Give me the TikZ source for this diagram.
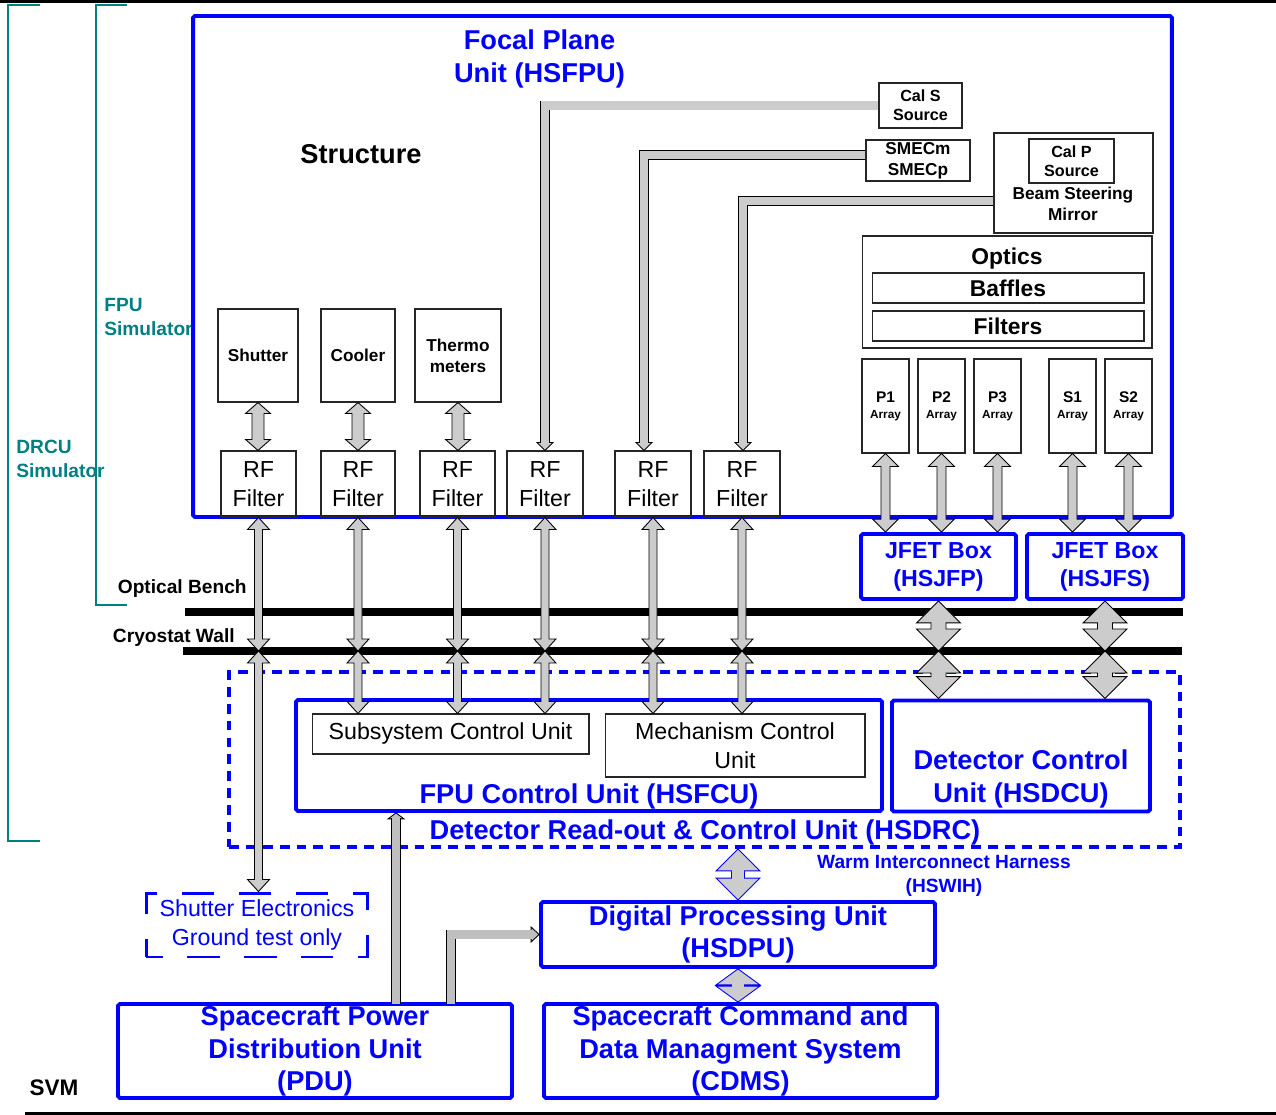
\documentclass[tikz,border=0pt]{standalone}
\usepackage{fontspec}
\setmainfont{Liberation Sans}
\usetikzlibrary{calc}

\definecolor{hblue}{RGB}{0,0,255}
\definecolor{hteal}{RGB}{0,128,128}

\newcommand{\hsbig}{\fontsize{15.5}{18.7}\selectfont\bfseries}
\newcommand{\hsjfet}{\fontsize{13.2}{15.9}\selectfont\bfseries}
\newcommand{\hsopt}{\fontsize{13}{15}\selectfont\bfseries}
\newcommand{\hsmid}{\fontsize{13.2}{16.2}\selectfont}
\newcommand{\hssmall}{\fontsize{9.8}{11.9}\selectfont\bfseries}
\newcommand{\hscal}{\fontsize{9.2}{10.9}\selectfont\bfseries}
\newcommand{\hslab}{\fontsize{10.9}{13.6}\selectfont\bfseries}
\newcommand{\hssvm}{\fontsize{12.8}{15}\selectfont\bfseries}

% fat double arrow: [style]{head half width}{shaft half width}{head length}{top}{bottom}
\newcommand{\fatarrow}[6][arrowbody]{%
  \draw[#1] (#5) -- ++(#2,#4) -- ++({#3-#2},0) -- ($(#6)+(#3,-#4)$) -- ++({#2-#3},0)
    -- (#6) -- ++(-#2,-#4) -- ++({#2-#3},0) -- ($(#5)+(-#3,#4)$) -- ++({#3-#2},0) -- cycle;}

\begin{document}
\begin{tikzpicture}[x=0.02cm,y=-0.02cm,
sysbox/.style={draw=black!85,line width=0.6pt,inner sep=0pt,align=center},
bluebox/.style={draw=hblue,line width=2.2pt,rounded corners=1pt,inner sep=0pt,align=center,text=hblue,font=\hsbig},
dashbox/.style={draw=hblue,line width=2.2pt,dash pattern=on 5.6pt off 4pt,inner sep=0pt},
groundbox/.style={draw=hblue,line width=1.7pt,dash pattern=on 18.5pt off 13.9pt,dash phase=9pt,inner sep=0pt,align=center,text=hblue,font=\hsmid},
bluetext/.style={text=hblue,font=\hsbig,align=center},
simtext/.style={text=hteal,font=\hslab,align=left,anchor=west,inner sep=0pt},
bracket/.style={draw=hteal,line width=1.7pt},
wall/.style={draw=black,line width=4.5pt},
arrowbody/.style={draw=black,line width=0.5pt,fill=gray!40},
bluearrow/.style={draw=hblue,line width=0.5pt,fill=gray!40},
fatline/.style={draw=black,line width=0.5pt,double=gray!40,double distance=4.6pt},
pduline/.style={draw=black,line width=0.5pt,double=gray!50,double distance=4.6pt},
pduhead/.style={draw=black,line width=0.5pt,fill=gray!50}]

\useasboundingbox (0,0) rectangle (1276,1115);

% frame rules and simulator brackets
\draw[line width=2pt] (0,1.7) -- (1276,1.7);
\draw[line width=2.2pt] (25,1113.5) -- (1276,1113.5);
\draw[bracket] (40,5) -| (8,841) -- (40,841);
\draw[bracket] (127,5) -| (96,605) -- (127,605);
\draw (104,317) node[simtext] (fpusim) {FPU\\Simulator};
\draw (16,458.5) node[simtext] (drcusim) {DRCU\\Simulator};

% focal plane unit
\draw (682.5,266.5) node[bluebox,minimum width=19.58cm,minimum height=10.02cm] (fpu) {};
\draw (539.5,59) node[bluetext] (fputext) {Focal Plane\\Unit (HSFPU)};
\draw (361,154) node[font=\hsbig] (struct) {Structure};

\draw (258,355.5) node[sysbox,font=\hssmall,minimum width=1.6cm,minimum height=1.86cm] (shutter) {Shutter};
\draw (358,355.5) node[sysbox,font=\hssmall,minimum width=1.48cm,minimum height=1.86cm] (cooler) {Cooler};
\draw (458,355.5) node[sysbox,font=\hssmall,minimum width=1.72cm,minimum height=1.86cm] (thermo) {Thermo\\meters};

\foreach \n/\x/\w in {1/258.5/1.5,2/358/1.48,3/457.5/1.5,4/545/1.52,5/653/1.52,6/742/1.52}
  \draw (\x,484) node[sysbox,font=\hsmid,minimum width=\w cm,minimum height=1.32cm] (rf\n) {RF\\Filter};

\draw (920.5,105.5) node[sysbox,font=\hscal,minimum width=1.66cm,minimum height=0.9cm] (cals) {Cal S\\Source};
\draw (918,160.5) node[sysbox,font=\hssmall,minimum width=2.08cm,minimum height=0.82cm] (smec) {SMECm\\SMECp};
\draw (1073.5,183) node[sysbox,minimum width=3.18cm,minimum height=2cm] (bsm) {};
\draw (1071.5,161) node[sysbox,font=\hscal,minimum width=1.7cm,minimum height=0.88cm] (calp) {Cal P\\Source};
\draw (1073,204) node[font=\hssmall,align=center] (bsmtext) {Beam Steering\\Mirror};

\draw (1007,292) node[sysbox,minimum width=5.8cm,minimum height=2.24cm] (optics) {};
\draw (1007,259) node[font=\hsopt] (opticstext) {Optics};
\draw (1008,288) node[sysbox,font=\hsopt,minimum width=5.44cm,minimum height=0.6cm] (baffles) {Baffles};
\draw (1008,326) node[sysbox,font=\hsopt,minimum width=5.44cm,minimum height=0.6cm] (filters) {Filters};

\foreach \n/\x in {P1/885.5,P2/941.5,P3/997.5,S1/1072.5,S2/1128.5}
  \draw (\x,406) node[sysbox,font=\fontsize{6.7}{9}\selectfont\bfseries,minimum width=0.94cm,minimum height=1.88cm] (\n)
    {{\fontsize{8.8}{9}\selectfont \n}\\Array};

\draw (938.5,566.5) node[bluebox,font=\hsjfet,minimum width=3.1cm,minimum height=1.3cm] (jfp) {JFET Box\\(HSJFP)};
\draw (1105,566.5) node[bluebox,font=\hsjfet,minimum width=3.12cm,minimum height=1.3cm] (jfs) {JFET Box\\(HSJFS)};

% optical bench and cryostat wall
\coordinate (obL) at (185,612);
\coordinate (obR) at (1183,612);
\coordinate (cwL) at (183,651);
\coordinate (cwR) at (1182,651);
\draw[wall] (obL) -- (obR);
\draw[wall] (cwL) -- (cwR);
\draw (247,589) node[font=\hslab,anchor=east,inner sep=0pt] (obtext) {Optical Bench};
\draw (235,638) node[font=\hslab,anchor=east,inner sep=0pt] (cwtext) {Cryostat Wall};

% read-out and control unit
\draw (704.5,759.5) node[dashbox,minimum width=19.02cm,minimum height=3.5cm] (drc) {};
\draw (589,755.5) node[bluebox,minimum width=11.72cm,minimum height=2.22cm] (fcu) {};
\draw (450.5,734) node[sysbox,font=\hsmid,minimum width=5.54cm,minimum height=0.8cm] (scu) {Subsystem Control Unit};
\draw (735,745.5) node[sysbox,font=\hsmid,minimum width=5.2cm,minimum height=1.26cm] (mcu) {Mechanism Control\\Unit};
\draw (589,796) node[bluetext] (fcutext) {FPU Control Unit (HSFCU)};
\draw (1021,756) node[bluebox,minimum width=5.16cm,minimum height=2.22cm] (dcu) {};
\draw (1021,779) node[bluetext] (dcutext) {Detector Control\\Unit (HSDCU)};
\draw (705,832) node[bluetext] (drctext) {Detector Read-out \& Control Unit (HSDRC)};
\draw (944,876) node[text=hblue,font=\hslab,align=center] (wih) {Warm Interconnect Harness\\(HSWIH)};

% service module
\draw (257,925) node[groundbox,minimum width=4.44cm,minimum height=1.28cm] (shel) {Shutter Electronics\\Ground test only};
\draw (738,934.5) node[bluebox,minimum width=7.88cm,minimum height=1.3cm] (dpu) {Digital Processing Unit\\(HSDPU)};
\draw (315,1051) node[bluebox,minimum width=7.88cm,minimum height=1.88cm] (pdu) {Spacecraft Power\\Distribution Unit\\(PDU)};
\draw (740.5,1051) node[bluebox,minimum width=7.86cm,minimum height=1.88cm] (cdms) {Spacecraft Command and\\Data Managment System\\(CDMS)};
\draw (54,1088) node[font=\hssvm] (svm) {SVM};

% harness arrows
\fatarrow{12.5}{6}{11}{shutter.south}{shutter.south |- rf1.north}
\fatarrow{12.5}{6}{11}{cooler.south}{cooler.south |- rf2.north}
\fatarrow{12.5}{6}{11}{thermo.south}{thermo.south |- rf3.north}

\draw[arrowbody] (rf4.north) -- ++(-8,-8) -- ++(16,0) -- cycle;
\draw[fatline] (cals.west) -| ($(rf4.north)+(0,-7)$);
\draw[arrowbody] ($(rf5.north)+(-9,0)$) -- ++(-8,-8) -- ++(16,0) -- cycle;
\draw[fatline] ($(smec.west)+(0,-5.5)$) -| ($(rf5.north)+(-9,-7)$);
\draw[arrowbody] ($(rf6.north)+(1,0)$) -- ++(-8,-8) -- ++(16,0) -- cycle;
\draw[fatline] ($(bsm.west)+(0,18)$) -| ($(rf6.north)+(1,-7)$);

\foreach \n in {1,...,6}
  \fatarrow{11}{4}{12}{rf\n.south}{rf\n.south |- cwL};
\fatarrow{11}{4}{12}{rf1.south |- cwL}{rf1.south |- shel.north}
\foreach \n in {2,3,4}
  \fatarrow{11}{4}{12}{rf\n.south |- cwL}{rf\n.south |- scu.north};
\foreach \n in {5,6}
  \fatarrow{11}{4}{12}{rf\n.south |- cwL}{rf\n.south |- mcu.north};

\foreach \n in {P1,P2,P3}
  \fatarrow{13}{4.5}{13}{\n.south}{\n.south |- jfp.north};
\foreach \n in {S1,S2}
  \fatarrow{13}{4.5}{13}{\n.south}{\n.south |- jfs.north};

\fatarrow{22}{7.5}{22}{jfp.south}{jfp.south |- cwL}
\fatarrow{22}{7.5}{22}{jfp.south |- cwL}{jfp.south |- dcu.north}
\fatarrow{22}{7.5}{22}{jfs.south}{jfs.south |- cwL}
\fatarrow{22}{7.5}{22}{jfs.south |- cwL}{jfs.south |- dcu.north}

\fatarrow[bluearrow]{22}{6.5}{22}{dpu.north |- drc.south}{dpu.north}
\fatarrow[bluearrow]{22}{6.5}{16}{dpu.south}{dpu.south |- cdms.north}

% power lines
\coordinate (pdup) at (396,1004);
\coordinate (pdur) at (451,1004);
\draw[pduhead] (pdup |- fcu.south) -- ++(-8,6) -- ++(16,0) -- cycle;
\draw[pduline] (pdup) -- ($(pdup |- fcu.south)+(0,5)$);
\draw[pduhead] (dpu.west) -- ++(-8,-7.5) -- ++(0,15) -- cycle;
\draw[pduline] (pdur) |- ($(dpu.west)+(-7,0)$);
\end{tikzpicture}
\end{document}
